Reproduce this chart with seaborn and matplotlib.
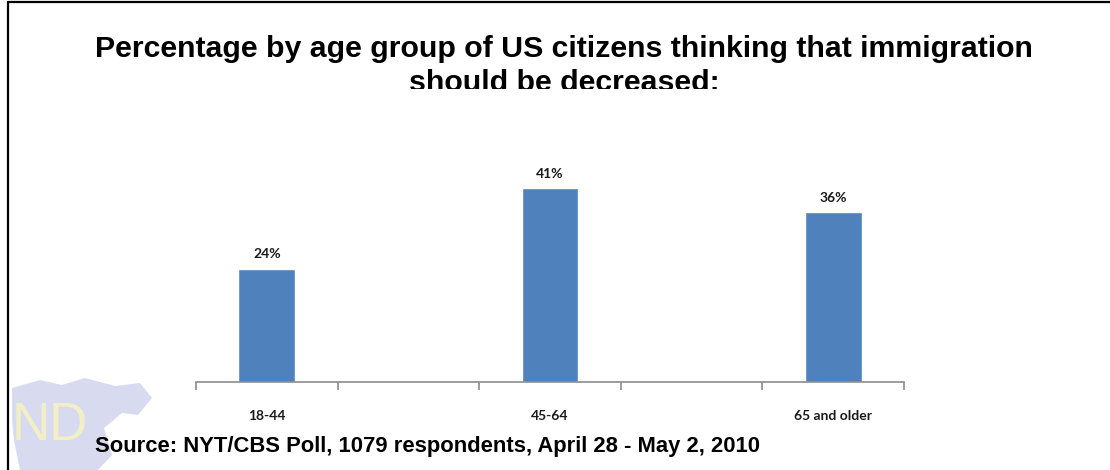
import matplotlib
matplotlib.use("Agg")
import matplotlib.pyplot as plt
import seaborn as sns
import pandas as pd
from matplotlib.patches import Rectangle, Polygon

categories = ["18-44", "45-64", "65 and older"]
values = [24, 41, 36]
title_lines = ["Percentage by age group of US citizens thinking that immigration",
               "should be decreased:"]
source = "Source: NYT/CBS Poll, 1079 respondents, April 28 - May 2, 2010"

sns.set_style("white")
plt.rcParams["font.family"] = ["Liberation Sans", "DejaVu Sans"]

W, H = 1110, 470
fig = plt.figure(figsize=(W / 100, H / 100), dpi=100)
fig.patch.set_facecolor("white")

# watermark logo (faint), drawn first
blob = [(12, 388), (40, 380), (62, 385), (85, 378), (115, 386), (140, 383),
        (152, 398), (138, 415), (122, 413), (104, 428), (112, 455), (98, 470),
        (20, 470), (14, 440), (12, 420)]
fig.patches.append(Polygon([(x / W, 1 - y / H) for x, y in blob], closed=True,
                           transform=fig.transFigure, facecolor="#cfd2ec",
                           edgecolor="none", alpha=0.8, zorder=0))
fig.text(12 / W, 1 - 440 / H, "ND", fontsize=38, color="#f4f1c4", alpha=0.95,
         va="baseline", ha="left", zorder=1)

# slots: bars alternate with empty categories
order = [categories[0], "_gap1", categories[1], "_gap2", categories[2]]
df = pd.DataFrame({"group": categories, "pct": values})

ax = fig.add_axes([196 / W, (H - 382) / H, (904 - 196) / W, (382 - 146) / H])
ax.patch.set_alpha(0)
sns.barplot(data=df, x="group", y="pct", order=order, color="#4F81BD",
            width=0.4, saturation=1, ax=ax)
ax.set_xlim(-0.5, 4.5)
ax.set_ylim(0, 50)

for c in ax.containers:
    ax.bar_label(c, fmt="{:.0f}%", padding=6, fontsize=10, fontweight="bold",
                 family=["Lato", "DejaVu Sans"], color="#1a1a1a")

for s in ["top", "right", "left"]:
    ax.spines[s].set_visible(False)
ax.spines["bottom"].set_color("#8c8c8c")
ax.spines["bottom"].set_linewidth(1.2)
ax.set_yticks([])
ax.set_xlabel("")
ax.set_ylabel("")

# ticks at category boundaries, labels at bar centers
ax.set_xticks([i - 0.5 for i in range(6)])
ax.set_xticklabels([])
ax.tick_params(axis="x", which="major", direction="out", length=6, width=1.2,
               color="#8c8c8c", bottom=True)
ax.set_xticks([0, 2, 4], minor=True)
ax.set_xticklabels(categories, minor=True)
ax.tick_params(axis="x", which="minor", length=0, pad=20, labelsize=10,
               colors="#1a1a1a")
for lbl in ax.get_xticklabels(minor=True):
    lbl.set_fontweight("bold")
    lbl.set_family(["Lato", "DejaVu Sans"])

# frame
fig.add_artist(plt.Line2D([8 / W, 1], [1 - 2 / H, 1 - 2 / H], color="black", lw=1.6))
fig.add_artist(plt.Line2D([8 / W, 8 / W], [0, 1 - 2 / H], color="black", lw=1.6))

# title, second line clipped at bottom like the reference
clip = Rectangle((0, 1 - 89 / H), 1, 89 / H, transform=fig.transFigure)
for line, base in zip(title_lines, [57, 91]):
    t = fig.text(564 / W, 1 - base / H, line, ha="center", va="baseline",
                 fontsize=21.8, fontweight="bold", color="black")
    t.set_clip_path(clip)

fig.text(95 / W, 1 - 452 / H, source, ha="left", va="baseline", fontsize=15.8,
         fontweight="bold", color="black")

fig.savefig("out.png", dpi=100)
